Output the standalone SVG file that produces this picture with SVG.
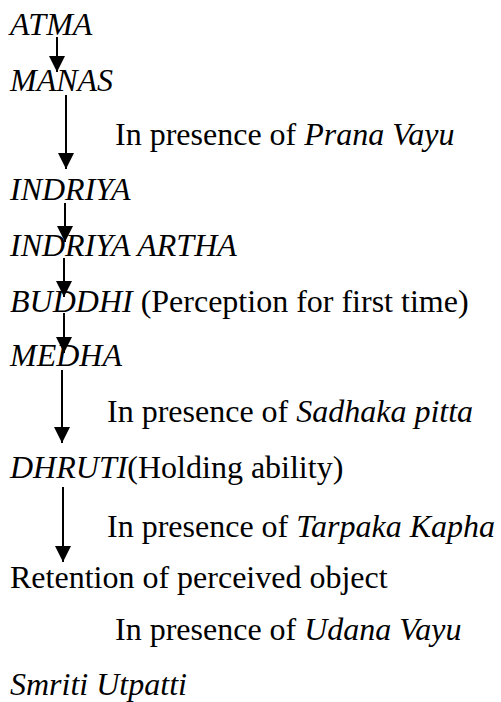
<svg xmlns="http://www.w3.org/2000/svg" width="501" height="702" viewBox="0 0 501 702">
<style>
  .it { font-style: italic; }
  .conn line { stroke: #000; stroke-width: 2; }
</style>
<defs>
  <marker id="ah" viewBox="0 0 16 16" refX="16" refY="8" markerWidth="16" markerHeight="16" markerUnits="userSpaceOnUse" orient="auto">
    <path d="M0,0 L16,8 L0,16 z" fill="#000"/>
  </marker>
</defs>
<rect width="501" height="702" fill="#fff"/>
<g font-family="'Liberation Serif', serif" font-size="32" fill="#000">
<g id="atma"><text x="10" y="35" class="it">ATMA</text></g>
<g id="manas"><text x="10" y="91" class="it">MANAS</text></g>
<g id="prana"><text x="115" y="145">In presence of <tspan class="it">Prana Vayu</tspan></text></g>
<g id="indriya"><text x="10" y="200" class="it">INDRIYA</text></g>
<g id="indriya-artha"><text x="10" y="256" class="it">INDRIYA ARTHA</text></g>
<g id="buddhi"><text x="10" y="312"><tspan class="it">BUDDHI</tspan> (Perception for first time)</text></g>
<g id="medha"><text x="10" y="366" class="it">MEDHA</text></g>
<g id="sadhaka"><text x="107" y="422">In presence of <tspan class="it">Sadhaka pitta</tspan></text></g>
<g id="dhruti"><text x="10" y="478"><tspan class="it">DHRUTI</tspan>(Holding ability)</text></g>
<g id="tarpaka"><text x="107" y="537">In presence of <tspan class="it">Tarpaka Kapha</tspan></text></g>
<g id="retention"><text x="10" y="588">Retention of perceived object</text></g>
<g id="udana"><text x="115" y="640">In presence of <tspan class="it">Udana Vayu</tspan></text></g>
<g id="smriti"><text x="10" y="695" class="it">Smriti Utpatti</text></g>
</g>
<g class="conn" id="connectors">
  <line x1="57" y1="37" x2="57" y2="72" marker-end="url(#ah)"/>
  <line x1="66" y1="95" x2="66" y2="169" marker-end="url(#ah)"/>
  <line x1="65" y1="203" x2="65" y2="242" marker-end="url(#ah)"/>
  <line x1="64" y1="258" x2="64" y2="297" marker-end="url(#ah)"/>
  <line x1="64" y1="313" x2="64" y2="353" marker-end="url(#ah)"/>
  <line x1="62" y1="370" x2="62" y2="443" marker-end="url(#ah)"/>
  <line x1="63" y1="487" x2="63" y2="562" marker-end="url(#ah)"/>
</g>
</svg>
